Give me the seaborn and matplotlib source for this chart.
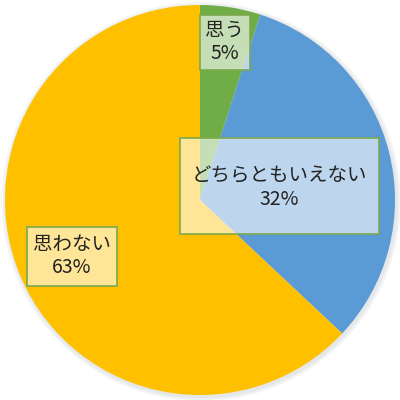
import matplotlib
matplotlib.use("Agg")
import matplotlib.pyplot as plt
import matplotlib.patches as mpatches
import seaborn as sns

# データ
labels = ["思う", "どちらともいえない", "思わない"]
values = [5, 32, 63]
colors = ["#70AD47", "#5B9BD5", "#FFC000"]

sns.set_theme(style="white")
plt.rcParams['font.family'] = ['Noto Sans CJK JP', 'DejaVu Sans']

fig = plt.figure(figsize=(4, 4), dpi=100)
ax = fig.add_axes([0, 0, 1, 1])

# 影
for i in range(3):
    shadow = mpatches.Circle((0.006, -0.008), 1.0 + 0.008 * (i + 1), color="#5a6470",
                             alpha=0.05, zorder=0, lw=0)
    ax.add_patch(shadow)

ax.pie(values, colors=colors, startangle=90, counterclock=False,
       radius=1.0, wedgeprops=dict(linewidth=0))

lim = 200 / 195
ax.set_xlim(-lim, lim)
ax.set_ylim(-lim, lim)
ax.set_aspect("equal")
ax.axis("off")

# ラベルの枠 (ピクセル: x0, y0, 幅, 高さ) と文字の中心
boxes = [(200, 15, 50, 55), (180, 138, 199, 96), (27, 227, 90, 59)]
text_pos = [(225, 42), (279, 188), (72, 256)]

for (x0, y0, w, h), (tx, ty), lab, v in zip(boxes, text_pos, labels, values):
    rect = mpatches.Rectangle((x0 / 400, 1 - (y0 + h) / 400), w / 400, h / 400,
                              transform=fig.transFigure, facecolor="white",
                              alpha=0.6, edgecolor="none", zorder=5)
    fig.patches.append(rect)
    border = mpatches.Rectangle((x0 / 400, 1 - (y0 + h) / 400), w / 400, h / 400,
                                transform=fig.transFigure, facecolor="none",
                                edgecolor="#7DA84E", linewidth=1.2, zorder=6)
    fig.patches.append(border)
    fig.text(tx / 400, 1 - ty / 400, f"{lab}\n{v}%", ha="center", va="center",
             fontsize=14, color="#222222", linespacing=1.15, zorder=7)

fig.savefig("out.png", dpi=100)
